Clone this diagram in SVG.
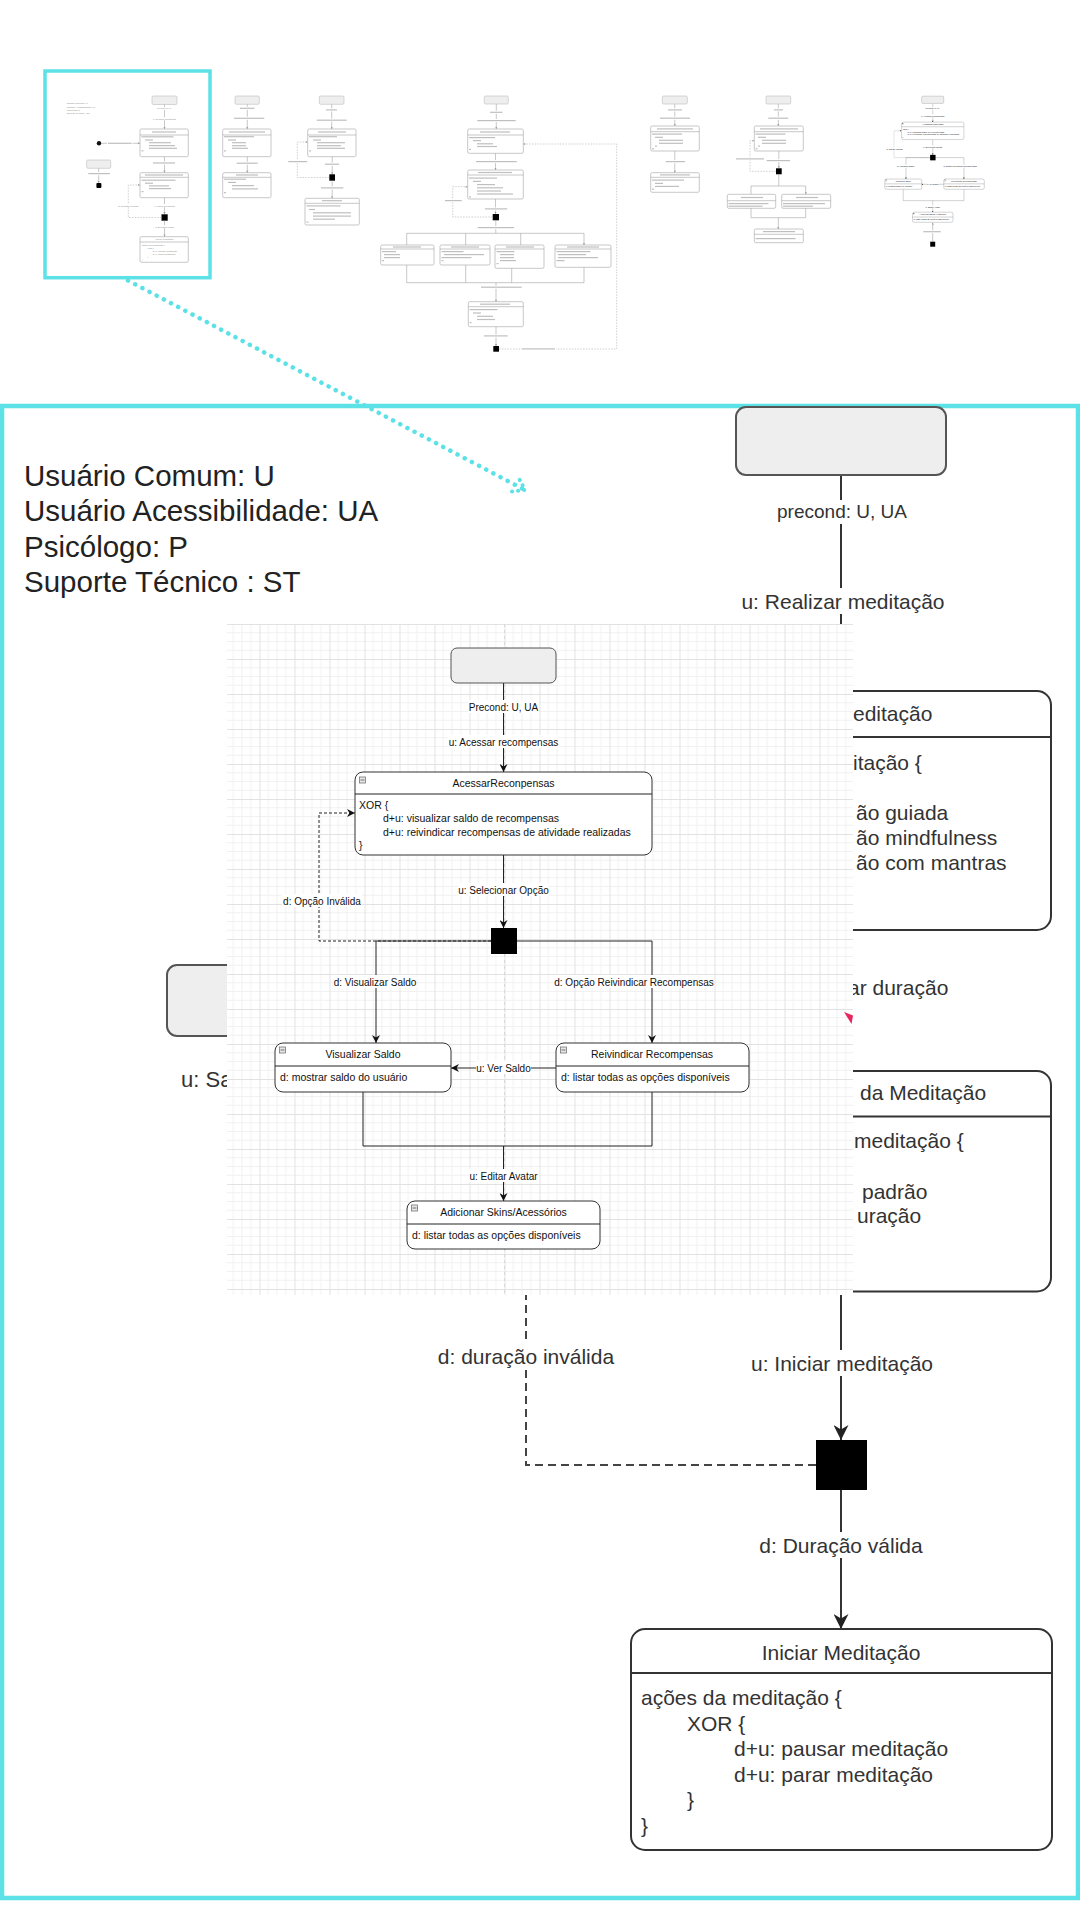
<svg xmlns="http://www.w3.org/2000/svg" xmlns:xlink="http://www.w3.org/1999/xlink" width="1080" height="1920" viewBox="0 0 1080 1920">
<defs>
<style>
text{font-family:"Liberation Sans",Arial,Helvetica,sans-serif}
.bt{font-size:21px;fill:#333}
.c{text-anchor:middle}
.bn{fill:#fff;stroke:#333;stroke-width:2}
.bs{fill:#eee;stroke:#555;stroke-width:2}
.bl{fill:none;stroke:#333;stroke-width:2}
.bd{fill:none;stroke:#444;stroke-width:2;stroke-dasharray:8 5}
.wb{fill:#fff}
.gt{font-size:10.5px;fill:#111}
.gl{font-size:10px;fill:#111}
.gn{fill:#fff;stroke:#333;stroke-width:1}
.gs{fill:#eee;stroke:#555;stroke-width:1}
.gc{fill:none;stroke:#222;stroke-width:1}
.gd{fill:none;stroke:#222;stroke-width:1;stroke-dasharray:3 2}
.ic{fill:#e6e6e6;stroke:#777;stroke-width:.8}
.m{fill:none;stroke:#a3a3a3;stroke-width:.6}
.md{fill:none;stroke:#b3b3b3;stroke-width:.6;stroke-dasharray:1.6 1.2}
.mn{fill:#fff;stroke:#a3a3a3;stroke-width:.6}
.ms{fill:#eee;stroke:#bdbdbd;stroke-width:.6}
.bar{fill:#bfbfbf}
.mt{fill:#8a8a8a}
.k{fill:#000}
.cy{fill:none;stroke:#5ce1e6}
</style>
<marker id="arB" viewBox="0 0 10 10" refX="10" refY="5" markerWidth="15" markerHeight="15" markerUnits="userSpaceOnUse" orient="auto"><path d="M0,0 L10,5 L0,10 L3,5 z" fill="#222"/></marker>
<marker id="arG" viewBox="0 0 10 10" refX="10" refY="5" markerWidth="8" markerHeight="8" markerUnits="userSpaceOnUse" orient="auto"><path d="M0,0 L10,5 L0,10 L3,5 z" fill="#111"/></marker>
<marker id="arM" viewBox="0 0 10 10" refX="10" refY="5" markerWidth="2.4" markerHeight="2.4" markerUnits="userSpaceOnUse" orient="auto"><path d="M0,0 L10,5 L0,10 L3,5 z" fill="#999"/></marker>
<pattern id="grid" x="224.5" y="624" width="35" height="35" patternUnits="userSpaceOnUse">
<path d="M8.75 0V35M17.5 0V35M26.25 0V35M0 8.75H35M0 17.5H35M0 26.25H35" fill="none" stroke="#f1f1f1" stroke-width="1"/>
<path d="M0.5 0V35M0 0.5H35" fill="none" stroke="#e2e2e2" stroke-width="1"/>
</pattern>
</defs>
<rect x="0" y="0" width="1080" height="1920" fill="#fff"/>

<!-- ===== Overview strip ===== -->
<g id="overview">
 <g id="mini-meditacao">
  <text class="mt" font-size="2.45" x="66.7" y="104.3">Usuário Comum: U</text>
  <text class="mt" font-size="2.45" x="66.7" y="107.6">Usuário Acessibilidade: UA</text>
  <text class="mt" font-size="2.45" x="66.7" y="110.9">Psicólogo: P</text>
  <text class="mt" font-size="2.45" x="66.7" y="114.2">Suporte Técnico : ST</text>
  <rect class="ms" x="152" y="96" width="25" height="8.5" rx="1.2"/>
  <path class="m" d="M164.5 104.5V129" marker-end="url(#arM)"/>
  <rect class="wb" x="156.5" y="107" width="16" height="2.8"/>
  <text class="mt c" font-size="2.2" x="164.5" y="109.1">precond: U, UA</text>
  <rect class="wb" x="153" y="117.3" width="23" height="3"/>
  <text class="mt c" font-size="2.4" x="164.5" y="119.5">u: Realizar meditação</text>
  <rect class="mn" x="140" y="129" width="48.3" height="27.7" rx="1.5"/>
  <path class="m" d="M140 135H188.3"/>
  <rect class="bar" x="152" y="131.4" width="24" height="1.2"/>
  <rect class="bar" x="141.5" y="136.2" width="32" height="1.2"/>
  <rect class="bar" x="145" y="139.4" width="8" height="1.2"/>
  <rect class="bar" x="149" y="142.1" width="22" height="1.2"/>
  <rect class="bar" x="149" y="145" width="26" height="1.2"/>
  <rect class="bar" x="149" y="147.7" width="28" height="1.2"/>
  <rect class="bar" x="141.5" y="150.2" width="2" height="1.2"/>
  <circle cx="99" cy="143.3" r="2.2" fill="#111"/>
  <path class="m" d="M101.2 143.3H140" marker-end="url(#arM)"/>
  <rect class="wb" x="107" y="141.8" width="25.7" height="3"/>
  <rect class="bar" x="108" y="142.7" width="23.7" height="1.2"/>
  <rect class="ms" x="86.7" y="160" width="24" height="8.3" rx="1.2"/>
  <path class="m" d="M98.7 168.3V183" marker-end="url(#arM)"/>
  <rect class="wb" x="87.5" y="172" width="23" height="3.2"/>
  <rect class="bar" x="88.3" y="173" width="21.7" height="1.2"/>
  <rect class="k" x="96.4" y="183" width="5" height="5" rx="1"/>
  <path class="m" d="M164.5 156.7V172.7" marker-end="url(#arM)"/>
  <rect class="wb" x="152" y="161.5" width="24" height="3"/>
  <rect class="bar" x="153" y="162.4" width="22" height="1.2"/>
  <rect class="mn" x="140" y="172.7" width="48.3" height="25" rx="1.5"/>
  <path class="m" d="M140 177.3H188.3"/>
  <rect class="bar" x="145" y="174.4" width="38" height="1.2"/>
  <rect class="bar" x="141.5" y="179.6" width="34" height="1.2"/>
  <rect class="bar" x="145" y="182.6" width="8" height="1.2"/>
  <rect class="bar" x="149" y="185.3" width="20" height="1.2"/>
  <rect class="bar" x="149" y="188" width="22" height="1.2"/>
  <rect class="bar" x="141.5" y="191" width="2" height="1.2"/>
  <path class="m" d="M164.5 197.7V214.3" marker-end="url(#arM)"/>
  <rect class="wb" x="154" y="204.2" width="21" height="3"/>
  <text class="mt c" font-size="2.4" x="164.5" y="206.5">u: Iniciar meditação</text>
  <rect class="k" x="161.5" y="214.3" width="6.2" height="6.4"/>
  <path class="md" d="M161.5 217.5H128.3V185H140" marker-end="url(#arM)"/>
  <rect class="wb" x="118" y="204.2" width="20.6" height="3"/>
  <text class="mt c" font-size="2.4" x="128.3" y="206.5">d: duração inválida</text>
  <path class="m" d="M164.5 220.7V236.7" marker-end="url(#arM)"/>
  <rect class="wb" x="155.5" y="225.2" width="18" height="3"/>
  <text class="mt c" font-size="2.4" x="164.5" y="227.5">d: Duração válida</text>
  <rect class="mn" x="140" y="236.7" width="48.3" height="25.6" rx="1.5"/>
  <path class="m" d="M140 242H188.3"/>
  <text class="mt c" font-size="2.4" x="164.5" y="240.4">Iniciar Meditação</text>
  <text class="mt" font-size="2.4" x="141.9" y="245.6">ações da meditação {</text>
  <text class="mt" font-size="2.4" x="147.3" y="248.6">XOR {</text>
  <text class="mt" font-size="2.4" x="152.8" y="251.6">d+u: pausar meditação</text>
  <text class="mt" font-size="2.4" x="152.8" y="254.6">d+u: parar meditação</text>
  <text class="mt" font-size="2.4" x="147.3" y="257.6">}</text>
  <text class="mt" font-size="2.4" x="141.9" y="260.6">}</text>
 </g>
 <g id="mini-b">
  <rect class="ms" x="235" y="96" width="24.3" height="8.3" rx="1.2"/>
  <path class="m" d="M247.3 104.3V129" marker-end="url(#arM)"/>
  <rect class="wb" x="239" y="106.8" width="16.5" height="3"/>
  <rect class="bar" x="240" y="107.7" width="14.5" height="1.2"/>
  <rect class="wb" x="233" y="116.8" width="32.3" height="3"/>
  <rect class="bar" x="234" y="117.7" width="30.3" height="1.2"/>
  <rect class="mn" x="222.7" y="129" width="48.3" height="27.7" rx="1.5"/>
  <path class="m" d="M222.7 135H271"/>
  <rect class="bar" x="229" y="131.4" width="36" height="1.2"/>
  <rect class="bar" x="224" y="136.1" width="30" height="1.2"/>
  <rect class="bar" x="228" y="139.4" width="8" height="1.2"/>
  <rect class="bar" x="232" y="142.1" width="14" height="1.2"/>
  <rect class="bar" x="232" y="145.1" width="14" height="1.2"/>
  <rect class="bar" x="232" y="147.7" width="16" height="1.2"/>
  <rect class="bar" x="224" y="150.3" width="2" height="1.2"/>
  <path class="m" d="M247.3 156.7V172.7" marker-end="url(#arM)"/>
  <rect class="wb" x="235.7" y="161.7" width="23" height="3"/>
  <rect class="bar" x="236.7" y="162.6" width="21" height="1.2"/>
  <rect class="mn" x="222.7" y="172.7" width="48.3" height="25" rx="1.5"/>
  <path class="m" d="M222.7 177.3H271"/>
  <rect class="bar" x="236" y="174.4" width="22" height="1.2"/>
  <rect class="bar" x="224" y="178.6" width="22" height="1.2"/>
  <rect class="bar" x="228" y="181.8" width="8" height="1.2"/>
  <rect class="bar" x="232" y="185" width="22" height="1.2"/>
  <rect class="bar" x="232" y="188.3" width="26" height="1.2"/>
  <rect class="bar" x="224" y="192" width="2" height="1.2"/>
 </g>
 <g id="mini-c">
  <rect class="ms" x="319.3" y="96" width="24.7" height="8.3" rx="1.2"/>
  <path class="m" d="M331.7 104.3V129" marker-end="url(#arM)"/>
  <rect class="wb" x="325" y="108.4" width="13" height="3"/>
  <rect class="bar" x="326" y="109.3" width="11" height="1.2"/>
  <rect class="wb" x="315.7" y="118.7" width="32" height="3"/>
  <rect class="bar" x="316.7" y="119.6" width="30" height="1.2"/>
  <rect class="mn" x="307.7" y="129" width="48.3" height="27.7" rx="1.5"/>
  <path class="m" d="M307.7 135H356"/>
  <rect class="bar" x="318" y="131.4" width="28" height="1.2"/>
  <rect class="bar" x="309" y="136.1" width="28" height="1.2"/>
  <rect class="bar" x="313" y="139.4" width="8" height="1.2"/>
  <rect class="bar" x="317" y="142.1" width="28" height="1.2"/>
  <rect class="bar" x="317" y="145.1" width="24" height="1.2"/>
  <rect class="bar" x="317" y="147.7" width="28" height="1.2"/>
  <rect class="bar" x="309" y="150.3" width="2" height="1.2"/>
  <path class="m" d="M332.2 156.7V174.3" marker-end="url(#arM)"/>
  <rect class="wb" x="324" y="162.7" width="16" height="3"/>
  <rect class="bar" x="325" y="163.6" width="14" height="1.2"/>
  <rect class="k" x="329.3" y="174.3" width="5.7" height="6.4"/>
  <path class="md" d="M329.3 177.5H297.3V142H307.7" marker-end="url(#arM)"/>
  <rect class="wb" x="287.3" y="160.1" width="21" height="3"/>
  <rect class="bar" x="288.3" y="161" width="19" height="1.2"/>
  <path class="m" d="M332.2 180.7V198.3" marker-end="url(#arM)"/>
  <rect class="wb" x="320" y="186.4" width="24.3" height="3"/>
  <rect class="bar" x="321" y="187.3" width="22.3" height="1.2"/>
  <rect class="mn" x="305" y="198.3" width="54.3" height="26.7" rx="1.5"/>
  <path class="m" d="M305 203.3H359.3"/>
  <rect class="bar" x="322" y="200.1" width="20" height="1.2"/>
  <rect class="bar" x="306.5" y="205.3" width="34" height="1.2"/>
  <rect class="bar" x="309" y="208.9" width="6" height="1.2"/>
  <rect class="bar" x="313" y="212.2" width="38" height="1.2"/>
  <rect class="bar" x="313" y="215.5" width="38" height="1.2"/>
  <rect class="bar" x="313" y="218.6" width="22" height="1.2"/>
  <rect class="bar" x="306.5" y="221.5" width="2" height="1.2"/>
 </g>
 <g id="mini-d">
  <rect class="ms" x="484.3" y="96" width="24" height="8" rx="1.2"/>
  <path class="m" d="M496.3 104V129" marker-end="url(#arM)"/>
  <rect class="wb" x="489" y="110.8" width="14.5" height="3"/>
  <rect class="bar" x="490" y="111.7" width="12.5" height="1.2"/>
  <rect class="wb" x="476.3" y="119.1" width="40.4" height="3"/>
  <rect class="bar" x="477.3" y="120" width="38.4" height="1.2"/>
  <rect class="mn" x="467.7" y="129" width="55.6" height="24.3" rx="1.5"/>
  <path class="m" d="M467.7 135H523.3"/>
  <rect class="bar" x="480" y="131.4" width="30" height="1.2"/>
  <rect class="bar" x="469" y="137" width="26" height="1.2"/>
  <rect class="bar" x="473" y="140" width="8" height="1.2"/>
  <rect class="bar" x="477" y="143.2" width="16" height="1.2"/>
  <rect class="bar" x="477" y="145.9" width="20" height="1.2"/>
  <rect class="bar" x="469" y="148.8" width="2" height="1.2"/>
  <path class="m" d="M495.5 153.3V170" marker-end="url(#arM)"/>
  <rect class="wb" x="475" y="160.1" width="42.7" height="3"/>
  <rect class="bar" x="476" y="161" width="40.7" height="1.2"/>
  <rect class="mn" x="467.7" y="170" width="55.6" height="29" rx="1.5"/>
  <path class="m" d="M467.7 175H523.3"/>
  <rect class="bar" x="478" y="171.9" width="34" height="1.2"/>
  <rect class="bar" x="469" y="177.5" width="28" height="1.2"/>
  <rect class="bar" x="473" y="180.8" width="8" height="1.2"/>
  <rect class="bar" x="477" y="184" width="18" height="1.2"/>
  <rect class="bar" x="477" y="187.2" width="26" height="1.2"/>
  <rect class="bar" x="477" y="190.4" width="24" height="1.2"/>
  <rect class="bar" x="477" y="193.4" width="36" height="1.2"/>
  <rect class="bar" x="469" y="196.3" width="2" height="1.2"/>
  <path class="m" d="M495.5 199V214" marker-end="url(#arM)"/>
  <rect class="wb" x="484" y="207.4" width="24.3" height="3"/>
  <rect class="bar" x="485" y="208.3" width="22.3" height="1.2"/>
  <rect class="k" x="492.7" y="214" width="6.3" height="6.3"/>
  <path class="md" d="M492.7 217H452.7V186.7H467.7" marker-end="url(#arM)"/>
  <rect class="wb" x="444" y="199.1" width="18.7" height="3"/>
  <rect class="bar" x="445" y="200" width="16.7" height="1.2"/>
  <path class="m" d="M495.8 220.3V233.3M406.7 233.3H584"/>
  <path class="m" d="M406.7 233.3V245M465.7 233.3V245M520.7 233.3V245M584 233.3V245" marker-end="url(#arM)"/>
  <rect class="wb" x="476.7" y="226.1" width="38.3" height="3"/>
  <rect class="bar" x="477.7" y="227" width="36.3" height="1.2"/>
  <rect class="mn" x="380.7" y="245" width="53.3" height="20" rx="1.5"/>
  <path class="m" d="M380.7 249H434"/>
  <rect class="bar" x="393" y="246.4" width="28" height="1.2"/>
  <rect class="bar" x="382" y="251" width="14" height="1.2"/>
  <rect class="bar" x="384" y="254" width="16" height="1.2"/>
  <rect class="bar" x="384" y="257" width="16" height="1.2"/>
  <rect class="bar" x="382" y="260" width="2" height="1.2"/>
  <rect class="mn" x="440" y="245" width="50" height="20" rx="1.5"/>
  <path class="m" d="M440 249H490"/>
  <rect class="bar" x="451" y="246.4" width="28" height="1.2"/>
  <rect class="bar" x="441.5" y="251" width="22" height="1.2"/>
  <rect class="bar" x="444" y="254" width="40" height="1.2"/>
  <rect class="bar" x="441.5" y="257" width="30" height="1.2"/>
  <rect class="bar" x="441.5" y="260" width="2" height="1.2"/>
  <rect class="mn" x="495" y="245" width="49" height="23.3" rx="1.5"/>
  <path class="m" d="M495 249H544"/>
  <rect class="bar" x="506" y="246.4" width="28" height="1.2"/>
  <rect class="bar" x="496.5" y="251" width="18" height="1.2"/>
  <rect class="bar" x="500" y="254" width="14" height="1.2"/>
  <rect class="bar" x="500" y="257" width="14" height="1.2"/>
  <rect class="bar" x="500" y="260" width="16" height="1.2"/>
  <rect class="bar" x="496.5" y="263" width="2" height="1.2"/>
  <rect class="mn" x="555" y="245" width="56" height="22.3" rx="1.5"/>
  <path class="m" d="M555 249H611"/>
  <rect class="bar" x="567" y="246.4" width="32" height="1.2"/>
  <rect class="bar" x="556.5" y="251" width="34" height="1.2"/>
  <rect class="bar" x="558" y="254" width="28" height="1.2"/>
  <rect class="bar" x="558" y="257" width="40" height="1.2"/>
  <rect class="bar" x="556.5" y="260" width="8" height="1.2"/>
  <path class="m" d="M406.7 265V282.7M465.7 265V282.7M511.7 268.3V282.7M584 267.3V282.7M406.7 282.7H584"/>
  <path class="m" d="M496 282.7V301.7" marker-end="url(#arM)"/>
  <rect class="wb" x="480" y="285.7" width="42.7" height="3"/>
  <rect class="bar" x="481" y="286.6" width="40.7" height="1.2"/>
  <rect class="mn" x="468.3" y="301.7" width="55" height="25" rx="1.5"/>
  <path class="m" d="M468.3 306.7H523.3"/>
  <rect class="bar" x="480" y="303.6" width="30" height="1.2"/>
  <rect class="bar" x="469.5" y="309" width="28" height="1.2"/>
  <rect class="bar" x="473" y="312.4" width="8" height="1.2"/>
  <rect class="bar" x="477" y="315.7" width="16" height="1.2"/>
  <rect class="bar" x="477" y="318.9" width="18" height="1.2"/>
  <rect class="bar" x="469.5" y="322" width="2" height="1.2"/>
  <path class="m" d="M496 326.7V346" marker-end="url(#arM)"/>
  <rect class="wb" x="483" y="334.4" width="25.7" height="3"/>
  <rect class="bar" x="484" y="335.3" width="23.7" height="1.2"/>
  <rect class="k" x="493.3" y="346" width="5.7" height="5.7"/>
  <path class="md" d="M499 349H616.7V144H523.3" marker-end="url(#arM)"/>
  <rect class="wb" x="520.7" y="347.4" width="35.3" height="3"/>
  <rect class="bar" x="521.7" y="348.3" width="33.3" height="1.2"/>
 </g>
 <g id="mini-e">
  <rect class="ms" x="662.3" y="96" width="25" height="8" rx="1.2"/>
  <path class="m" d="M674.8 104V126" marker-end="url(#arM)"/>
  <rect class="wb" x="667" y="108.4" width="16" height="3"/>
  <rect class="bar" x="668" y="109.3" width="14" height="1.2"/>
  <rect class="wb" x="659" y="116.7" width="32" height="3"/>
  <rect class="bar" x="660" y="117.6" width="30" height="1.2"/>
  <rect class="mn" x="650.7" y="126" width="48.6" height="25" rx="1.5"/>
  <path class="m" d="M650.7 131.7H699.3"/>
  <rect class="bar" x="657" y="128.3" width="36" height="1.2"/>
  <rect class="bar" x="652" y="133.5" width="30" height="1.2"/>
  <rect class="bar" x="655" y="136.7" width="8" height="1.2"/>
  <rect class="bar" x="659" y="139.7" width="24" height="1.2"/>
  <rect class="bar" x="659" y="142.7" width="24" height="1.2"/>
  <rect class="bar" x="655" y="145.5" width="2" height="1.2"/>
  <rect class="bar" x="652" y="148.2" width="2" height="1.2"/>
  <path class="m" d="M674.8 151V172.7" marker-end="url(#arM)"/>
  <rect class="wb" x="664.7" y="160.1" width="21.3" height="3"/>
  <rect class="bar" x="665.7" y="161" width="19.3" height="1.2"/>
  <rect class="mn" x="650.7" y="172.7" width="48.6" height="19.6" rx="1.5"/>
  <path class="m" d="M650.7 177.3H699.3"/>
  <rect class="bar" x="660" y="174.3" width="30" height="1.2"/>
  <rect class="bar" x="652" y="179.5" width="32" height="1.2"/>
  <rect class="bar" x="655" y="182.8" width="8" height="1.2"/>
  <rect class="bar" x="655" y="185.8" width="24" height="1.2"/>
  <rect class="bar" x="652" y="188.6" width="2" height="1.2"/>
 </g>
 <g id="mini-f">
  <rect class="ms" x="766" y="96" width="24.7" height="8" rx="1.2"/>
  <path class="m" d="M778.3 104V126" marker-end="url(#arM)"/>
  <rect class="wb" x="773" y="108.4" width="11" height="3"/>
  <rect class="bar" x="774" y="109.3" width="9" height="1.2"/>
  <rect class="wb" x="767.3" y="116.7" width="22" height="3"/>
  <rect class="bar" x="768.3" y="117.6" width="20" height="1.2"/>
  <rect class="mn" x="754.3" y="126" width="49" height="25" rx="1.5"/>
  <path class="m" d="M754.3 131.7H803.3"/>
  <rect class="bar" x="760" y="128.3" width="38" height="1.2"/>
  <rect class="bar" x="755.5" y="133.5" width="30" height="1.2"/>
  <rect class="bar" x="758" y="136.7" width="8" height="1.2"/>
  <rect class="bar" x="762" y="139.7" width="24" height="1.2"/>
  <rect class="bar" x="762" y="142.7" width="24" height="1.2"/>
  <rect class="bar" x="758" y="145.5" width="2" height="1.2"/>
  <rect class="bar" x="755.5" y="148.2" width="2" height="1.2"/>
  <path class="m" d="M778.8 151V168.3" marker-end="url(#arM)"/>
  <rect class="wb" x="765.7" y="159.1" width="25.3" height="3"/>
  <rect class="bar" x="766.7" y="160" width="23.3" height="1.2"/>
  <rect class="k" x="776" y="168.3" width="5.7" height="6"/>
  <path class="md" d="M776 171.3H750V140.7H754.3" marker-end="url(#arM)"/>
  <rect class="wb" x="735" y="157.4" width="30" height="3"/>
  <rect class="bar" x="736" y="158.3" width="28" height="1.2"/>
  <path class="m" d="M778.8 174.3V186M751 186H805.7"/>
  <path class="m" d="M751 186V194.3M805.7 186V194.3" marker-end="url(#arM)"/>
  <rect class="mn" x="727.3" y="194.3" width="48.4" height="14" rx="1.5"/>
  <path class="m" d="M727.3 200.7H775.7"/>
  <rect class="bar" x="741" y="196.9" width="22" height="1.2"/>
  <rect class="bar" x="728.5" y="203" width="40" height="1.2"/>
  <rect class="bar" x="728.5" y="205.6" width="34" height="1.2"/>
  <rect class="mn" x="781.7" y="194.3" width="49" height="14" rx="1.5"/>
  <path class="m" d="M781.7 200.7H830.7"/>
  <rect class="bar" x="796" y="196.9" width="22" height="1.2"/>
  <rect class="bar" x="783" y="203" width="42" height="1.2"/>
  <rect class="bar" x="783" y="205.6" width="30" height="1.2"/>
  <path class="m" d="M751 208.3V217.7H805.7V208.3"/>
  <path class="m" d="M778.3 217.7V229" marker-end="url(#arM)"/>
  <rect class="mn" x="754.3" y="229" width="49" height="13.7" rx="1.5"/>
  <path class="m" d="M754.3 234.3H803.3"/>
  <rect class="bar" x="763" y="231" width="32" height="1.2"/>
  <rect class="bar" x="755.5" y="238" width="40" height="1.2"/>
 </g>
 <g id="mini-recompensas">
  <use href="#rewards-diagram" xlink:href="#rewards-diagram" transform="translate(827,-40) scale(0.21)"/>
  <path class="m" d="M932.7 241.7V222.6" marker-end="url(#arM)"/>
  <rect class="wb" x="922.3" y="230.2" width="19.4" height="3"/>
  <rect class="bar" x="923.3" y="231.1" width="17.4" height="1.2"/>
  <rect class="k" x="930.2" y="241.7" width="5" height="5"/>
 </g>
</g>

<!-- callout -->
<g id="callout">
 <rect class="cy" x="45" y="71" width="165" height="206.7" stroke-width="3.5"/>
 <path class="cy" d="M128 280.5L522 488.5" stroke-width="4.5" stroke-linecap="round" stroke-dasharray="0.1 8"/>
 <polyline class="cy" points="512,491.6 525,490 519,478.4" stroke-width="4" stroke-linecap="round" stroke-linejoin="round" stroke-dasharray="0.1 6"/>
</g>

<!-- ===== Zoomed meditation diagram ===== -->
<rect class="cy" x="2" y="406" width="1076" height="1492" stroke-width="4.5"/>

<g id="legend">
 <text x="24" y="485.5" font-size="29.5" fill="#222">Usuário Comum: U</text>
 <text x="24" y="520.5" font-size="29.5" fill="#222">Usuário Acessibilidade: UA</text>
 <text x="24" y="557" font-size="29.5" fill="#222">Psicólogo: P</text>
 <text x="24" y="592" font-size="29.5" fill="#222">Suporte Técnico : ST</text>
</g>

<g id="meditation-connectors">
 <path class="bl" d="M841 475V691"/>
 <path class="bl" d="M841 930V1071"/>
 <path class="bl" d="M841 1291.5V1440" marker-end="url(#arB)"/>
 <path class="bd" d="M816 1465H526V1200"/>
 <path class="bl" d="M841 1490V1629" marker-end="url(#arB)"/>
 <path class="bl" d="M270 1036V1150"/>
 <rect class="wb" x="777" y="500" width="130" height="24"/>
 <text class="c" x="842" y="518" font-size="19" fill="#333">precond: U, UA</text>
 <rect class="wb" x="742" y="588" width="202" height="26"/>
 <text class="bt c" x="843" y="608.5">u: Realizar meditação</text>
 <rect class="wb" x="846" y="974" width="102" height="27"/>
 <text class="bt" x="848" y="994.5">ar duração</text>
 <rect class="wb" x="751" y="1350" width="182" height="26"/>
 <text class="bt c" x="842" y="1370.5">u: Iniciar meditação</text>
 <rect class="wb" x="438" y="1343" width="176" height="26"/>
 <text class="bt c" x="526" y="1363.5">d: duração inválida</text>
 <rect class="wb" x="760" y="1532" width="162" height="26"/>
 <text class="bt c" x="841" y="1552.5">d: Duração válida</text>
 <text x="181" y="1087" font-size="22" fill="#333">u: Sa</text>
</g>

<g id="med-start">
 <rect class="bs" x="736" y="407" width="210" height="68" rx="10"/>
</g>
<g id="med-start-2">
 <rect class="bs" x="167" y="965" width="204" height="71" rx="10"/>
</g>
<g id="med-box-1">
 <rect class="bn" x="631" y="691" width="420" height="239" rx="14"/>
 <path class="bl" d="M631 737H1051"/>
 <text class="bt" x="853" y="721">editação</text>
 <text class="bt" x="853" y="769.5">itação {</text>
 <text class="bt" x="856" y="819.5">ão guiada</text>
 <text class="bt" x="856" y="844.5">ão mindfulness</text>
 <text class="bt" x="856" y="869.5">ão com mantras</text>
</g>
<g id="med-box-2">
 <rect class="bn" x="631" y="1071" width="420" height="220.5" rx="14"/>
 <path class="bl" d="M631 1116.6H1051"/>
 <text class="bt" x="860" y="1100">da Meditação</text>
 <text class="bt" x="854" y="1147.5">meditação {</text>
 <text class="bt" x="862" y="1198.5">padrão</text>
 <text class="bt" x="857" y="1223">uração</text>
</g>
<g id="med-choice">
 <rect class="k" x="816" y="1440" width="51" height="50"/>
</g>
<g id="med-box-3">
 <rect class="bn" x="631" y="1629" width="421" height="221" rx="14"/>
 <path class="bl" d="M631 1673H1052"/>
 <text class="bt c" x="841" y="1659.5">Iniciar Meditação</text>
 <text class="bt" x="641" y="1705">ações da meditação {</text>
 <text class="bt" x="687" y="1730.5">XOR {</text>
 <text class="bt" x="734" y="1756">d+u: pausar meditação</text>
 <text class="bt" x="734" y="1781.5">d+u: parar meditação</text>
 <text class="bt" x="687" y="1807">}</text>
 <text class="bt" x="641" y="1832.5">}</text>
</g>

<!-- ===== Overlaid rewards diagram on grid ===== -->
<g id="grid-sheet">
 <rect x="227" y="624" width="626" height="671" fill="#fff"/>
 <rect x="227" y="624" width="626" height="671" fill="url(#grid)"/>
 <path d="M504.5 624V1295" stroke="#d9d9d9" stroke-width="1" stroke-dasharray="3 3" fill="none"/>
</g>
<polygon points="844,1012 853,1015.5 851.5,1024" fill="#e8265e"/>

<g id="rewards-diagram">
 <g id="rewards-connectors">
  <path class="gc" d="M503.5 683V772" marker-end="url(#arG)"/>
  <path class="gc" d="M503.5 855V928" marker-end="url(#arG)"/>
  <path class="gd" d="M491 941H319V813H355" marker-end="url(#arG)"/>
  <path class="gc" d="M491 941H376V1043" marker-end="url(#arG)"/>
  <path class="gc" d="M517 941H652V1043" marker-end="url(#arG)"/>
  <path class="gc" d="M556 1068H451" marker-end="url(#arG)"/>
  <path class="gc" d="M363 1092V1146H652V1092"/>
  <path class="gc" d="M503.5 1146V1201" marker-end="url(#arG)"/>
  <rect class="wb" x="468" y="700" width="71" height="13"/>
  <text class="gl c" x="503.5" y="710.6">Precond: U, UA</text>
  <rect class="wb" x="448.5" y="735" width="110" height="13"/>
  <text class="gl c" x="503.5" y="745.6">u: Acessar recompensas</text>
  <rect class="wb" x="458.5" y="883" width="90" height="13"/>
  <text class="gl c" x="503.5" y="893.6">u: Selecionar Opção</text>
  <rect class="wb" x="282" y="894" width="80" height="13"/>
  <text class="gl c" x="322" y="904.6">d: Opção Inválida</text>
  <rect class="wb" x="333.5" y="975" width="83" height="13"/>
  <text class="gl c" x="375" y="985.6">d: Visualizar Saldo</text>
  <rect class="wb" x="556" y="975" width="156" height="13"/>
  <text class="gl c" x="634" y="985.6">d: Opção Reivindicar Recompensas</text>
  <rect class="wb" x="476" y="1061" width="55" height="13"/>
  <text class="gl c" x="503.5" y="1071.6">u: Ver Saldo</text>
  <rect class="wb" x="469" y="1169" width="69" height="13"/>
  <text class="gl c" x="503.5" y="1179.6">u: Editar Avatar</text>
 </g>
 <g id="rw-start">
  <rect class="gs" x="451" y="648" width="105" height="35" rx="6"/>
 </g>
 <g id="rw-acessar">
  <rect class="gn" x="355" y="772" width="297" height="83" rx="8"/>
  <path class="gc" d="M355 794H652"/>
  <rect class="ic" x="359.5" y="777" width="6" height="6"/>
  <path d="M360.5 780H364.5" stroke="#555" stroke-width=".8"/>
  <text class="gt c" x="503.5" y="786.8">AcessarReconpensas</text>
  <text class="gt" x="359" y="809">XOR {</text>
  <text class="gt" x="383" y="822.3">d+u: visualizar saldo de recompensas</text>
  <text class="gt" x="383" y="835.6">d+u: reivindicar recompensas de atividade realizadas</text>
  <text class="gt" x="359" y="848.9">}</text>
 </g>
 <g id="rw-choice">
  <rect class="k" x="491" y="928" width="26" height="26"/>
 </g>
 <g id="rw-visualizar">
  <rect class="gn" x="275" y="1043" width="176" height="49" rx="8"/>
  <path class="gc" d="M275 1066H451"/>
  <rect class="ic" x="279.5" y="1047" width="6" height="6"/>
  <path d="M280.5 1050H284.5" stroke="#555" stroke-width=".8"/>
  <text class="gt c" x="363" y="1057.8">Visualizar Saldo</text>
  <text class="gt" x="280" y="1080.8">d: mostrar saldo do usuário</text>
 </g>
 <g id="rw-reivindicar">
  <rect class="gn" x="556" y="1043" width="193" height="49" rx="8"/>
  <path class="gc" d="M556 1066H749"/>
  <rect class="ic" x="560.5" y="1047" width="6" height="6"/>
  <path d="M561.5 1050H565.5" stroke="#555" stroke-width=".8"/>
  <text class="gt c" x="652" y="1057.8">Reivindicar Recompensas</text>
  <text class="gt" x="561" y="1080.8">d: listar todas as opções disponíveis</text>
 </g>
 <g id="rw-adicionar">
  <rect class="gn" x="407" y="1201" width="193" height="48" rx="8"/>
  <path class="gc" d="M407 1224H600"/>
  <rect class="ic" x="411.5" y="1205" width="6" height="6"/>
  <path d="M412.5 1208H416.5" stroke="#555" stroke-width=".8"/>
  <text class="gt c" x="503.5" y="1215.8">Adicionar Skins/Acessórios</text>
  <text class="gt" x="412" y="1238.8">d: listar todas as opções disponíveis</text>
 </g>
</g>
</svg>
